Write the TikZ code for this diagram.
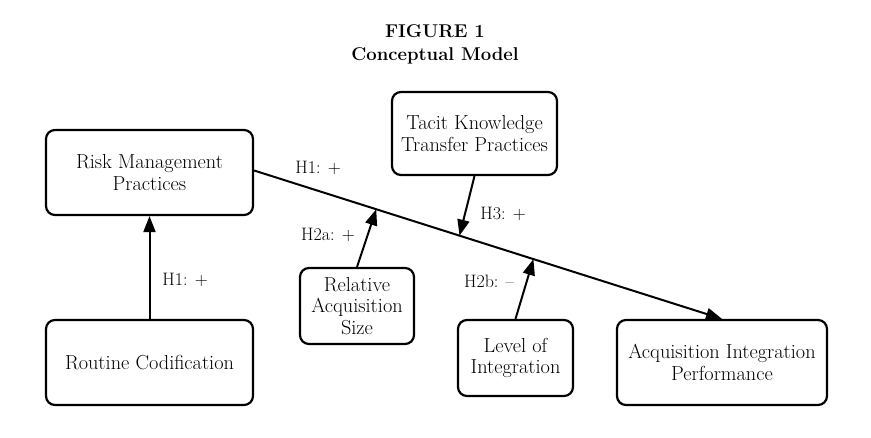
\documentclass[tikz,border=0pt]{standalone}
\usetikzlibrary{arrows.meta}
\begin{document}
\begin{tikzpicture}[x=1pt,y=-1pt,
  box/.style={draw,line width=2.2pt,rounded corners=9pt,align=center,inner sep=2pt,
    font=\fontsize{20.3}{21.5}\selectfont},
  lbl/.style={font=\fontsize{18}{20}\selectfont},
  arr/.style={line width=2pt,-{Triangle[length=16pt,width=12pt]}},
  ttl/.style={font=\fontsize{18.5}{23}\selectfont\bfseries,align=center}]
\useasboundingbox (0,0) rectangle (871,437);
\node[ttl] (title) at (435,44) {FIGURE 1\\Conceptual Model};
\node[box,minimum width=207pt,minimum height=85pt] (rmp) at (149.5,172.5) {Risk Management\\Practices};
\node[box,minimum width=207pt,minimum height=85pt] (rc) at (149.5,362.5) {Routine Codification};
\node[box,minimum width=114pt,minimum height=76pt] (ras) at (357,306) {Relative\\Acquisition\\Size};
\node[box,minimum width=165pt,minimum height=83pt] (tkt) at (474.5,133.5) {Tacit Knowledge\\Transfer Practices};
\node[box,minimum width=115pt,minimum height=76pt] (loi) at (515.5,358) {Level of\\Integration};
\node[box,minimum width=210pt,minimum height=85pt] (aip) at (722,362.5) {Acquisition Integration\\Performance};
\draw[arr] ([yshift=2pt]rmp.east) -- (aip.north)
  coordinate[pos=0.261] (m1)
  coordinate[pos=0.439] (m2)
  coordinate[pos=0.597] (m3);
\draw[arr] (rc.north) -- (rmp.south);
\draw[arr] (ras.north) -- (m1);
\draw[arr] (tkt.south) -- (m2);
\draw[arr] (loi.north) -- (m3);
\node[lbl] (l1) at (318,168) {H1: +};
\node[lbl] (l2) at (185,280) {H1: +};
\node[lbl] (l3) at (328,235) {H2a: +};
\node[lbl] (l4) at (503,214) {H3: +};
\node[lbl] (l5) at (489,281) {H2b: --};
\end{tikzpicture}
\end{document}
